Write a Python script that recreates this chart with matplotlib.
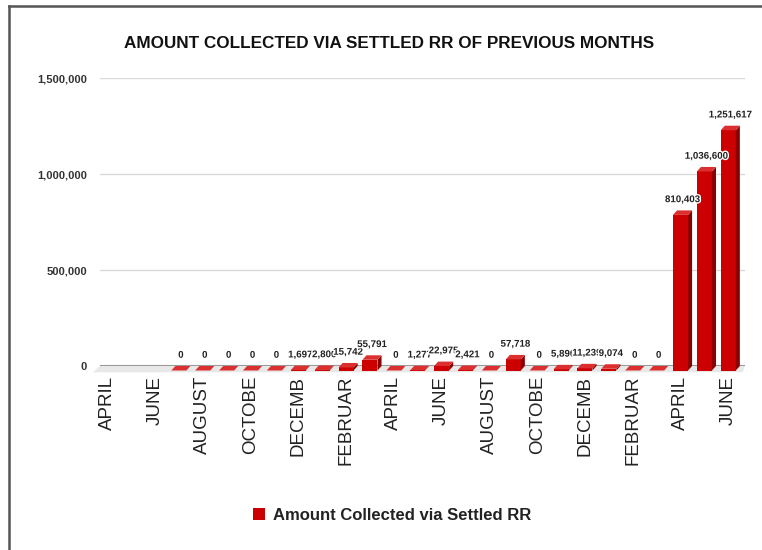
import matplotlib
matplotlib.use("Agg")
import matplotlib.pyplot as plt
from matplotlib.patches import Polygon, Patch
from matplotlib.lines import Line2D
import matplotlib.patheffects as pe
import numpy as np

plt.rcParams['font.family'] = ['Liberation Sans', 'DejaVu Sans']

# months shown on the category axis (27 of them, Apr .. Jun two years later)
months = ["APRIL", "MAY", "JUNE", "JULY", "AUGUST", "SEPTEMBER", "OCTOBER",
          "NOVEMBER", "DECEMBER", "JANUARY", "FEBRUARY", "MARCH",
          "APRIL", "MAY", "JUNE", "JULY", "AUGUST", "SEPTEMBER", "OCTOBER",
          "NOVEMBER", "DECEMBER", "JANUARY", "FEBRUARY", "MARCH",
          "APRIL", "MAY", "JUNE"]
# labels as they appear (every other month, cut short)
tick_labels = ["APRIL", "", "JUNE", "", "AUGUST", "", "OCTOBE", "", "DECEMB", "",
               "FEBRUAR", "", "APRIL", "", "JUNE", "", "AUGUST", "", "OCTOBE", "",
               "DECEMB", "", "FEBRUAR", "", "APRIL", "", "JUNE"]
# amount collected (None = no data)
amounts = [None, None, None, 0, 0, 0, 0, 0, 1697, 2800, 15742, 55791,
           0, 1277, 22975, 2421, 0, 57718, 0, 5890, 11239, 9074, 0, 0,
           810403, 1036600, 1251617]

W, H = 762, 550
fig = plt.figure(figsize=(W / 100, H / 100), dpi=100)
ax = fig.add_axes([100 / W, 1 - 366 / H, 645 / W, 288 / H])

ymax = 1500000
ax.set_ylim(0, ymax)
ax.set_xlim(-0.3, len(months) - 0.3)

upp = ymax / 288.0          # data units per pixel
d = 4.5 * upp               # depth (vertical)
dx = 0.17                   # depth (horizontal)
bw = 0.63                   # bar width

front_c = "#cc0000"
top_c = "#dc3030"
side_c = "#8a0000"

# floor
x0, x1 = -0.3, len(months) - 0.3
floor = Polygon([(x0 - 0.3, -1.4 * d), (x1 - 0.1, -1.4 * d), (x1, 0), (x0, 0)],
                closed=True, facecolor="#e8e8e8", edgecolor="none",
                clip_on=False, zorder=1)
ax.add_patch(floor)

for i, v in enumerate(amounts):
    if v is None:
        continue
    l, r = i - bw / 2, i + bw / 2
    yb, yt = -d, v - d
    if v > 0:
        ax.add_patch(Polygon([(l, yb), (r, yb), (r, yt), (l, yt)], closed=True,
                             facecolor=front_c, edgecolor="none", clip_on=False, zorder=3))
        ax.add_patch(Polygon([(r, yb), (r + dx, yb + d), (r + dx, yt + d), (r, yt)], closed=True,
                             facecolor=side_c, edgecolor="none", clip_on=False, zorder=3))
    ax.add_patch(Polygon([(l, yt), (r, yt), (r + dx, yt + d), (l + dx, yt + d)], closed=True,
                         facecolor=top_c, edgecolor="none", clip_on=False, zorder=3))
    ax.annotate(f"{v:,}", (i + dx / 2, v), xytext=(0, 4.5), textcoords="offset points",
                ha="center", va="bottom", fontsize=7, fontweight="bold", color="#222222",
                zorder=5, annotation_clip=False,
                path_effects=[pe.withStroke(linewidth=2, foreground="white")])

# grid
ax.set_yticks([0, 500000, 1000000, 1500000])
ax.set_yticklabels(["0", "500,000", "1,000,000", "1,500,000"])
ax.yaxis.grid(True, color="#d9d9d9", linewidth=1)
ax.set_axisbelow(True)
ax.axhline(0, color="#9a9a9a", linewidth=1.5, zorder=2)
for s in ax.spines.values():
    s.set_visible(False)
ax.tick_params(axis="y", length=0, pad=9.5, labelsize=8, labelcolor="#333333")
for t in ax.get_yticklabels():
    t.set_fontweight("bold")

ax.set_xticks(range(len(months)))
ax.set_xticklabels(tick_labels, rotation=90, fontsize=13.5, color="#222222")
ax.tick_params(axis="x", length=0, pad=7)

fig.text(389 / W, 1 - 44 / H, "AMOUNT COLLECTED VIA SETTLED RR OF PREVIOUS MONTHS",
         ha="center", va="center", fontsize=12.3, fontweight="bold", color="#111111")

fig.legend(handles=[Patch(facecolor=front_c, edgecolor="none")],
           labels=["Amount Collected via Settled RR"], loc="center",
           bbox_to_anchor=(392 / W, 1 - 515 / H), frameon=False,
           prop={"size": 12, "weight": "bold"}, handlelength=0.7, handleheight=0.7,
           handletextpad=0.5, labelcolor="#222222")

# border (left and top)
fig.add_artist(Line2D([9 / W, 9 / W], [0, 1 - 6 / H], transform=fig.transFigure,
                      color="#555555", linewidth=1.8))
fig.add_artist(Line2D([9 / W, 1], [1 - 6 / H, 1 - 6 / H], transform=fig.transFigure,
                      color="#555555", linewidth=1.8))

fig.savefig("out.png", dpi=100)
